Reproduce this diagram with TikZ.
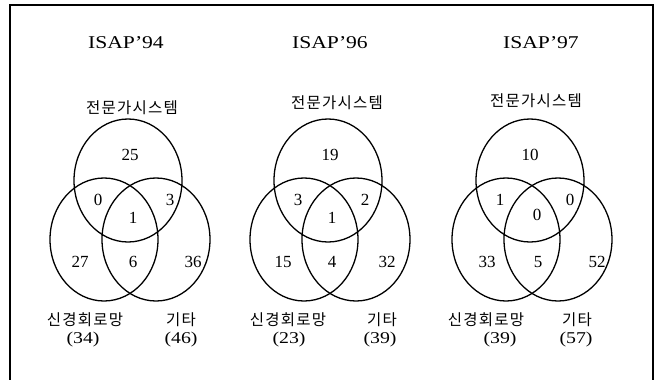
\documentclass[tikz,border=0pt]{standalone}
\usepackage{fontspec}
\setmainfont{Liberation Serif}
\newfontfamily\korfont{Noto Sans CJK KR}[LetterSpace=8]
\newfontfamily\widefont{Liberation Serif}[FakeStretch=1.2]
\usepackage{tikz}
\usetikzlibrary{positioning}
\tikzset{
  ring/.style={draw,line width=1.3pt},
  frm/.style={draw,line width=1.4pt},
  num/.style={inner sep=0pt,font=\fontsize{17}{18}\selectfont},
  ttl/.style={inner sep=0pt,font=\widefont\fontsize{18}{20}\selectfont},
  kor/.style={inner sep=0pt,font=\korfont\fontsize{15.5}{18}\selectfont},
  cnt/.style={inner sep=0pt,font=\widefont\fontsize{16.5}{18}\selectfont}
}

\begin{document}
\begin{tikzpicture}[x=1pt,y=-1pt]
\useasboundingbox (0,0) rectangle (659,380);
% open frame
\draw[frm] (10,380) -- (10,5) -- (653,5) -- (653,380);
% three circles per year
\foreach \cx in {128,328,530}{
  \draw[ring] (\cx,180.5) ellipse [x radius=54,y radius=61.5];
  \draw[ring] (\cx-24,239.5) ellipse [x radius=54,y radius=61.5];
  \draw[ring] (\cx+28,239.5) ellipse [x radius=54,y radius=61.5];
}
% ISAP'94
\node[ttl] (t94) at (126,43) {ISAP’94};
\node[kor] (es94) at (132,108) {전문가시스템};
\node[num] (a94) at (130,155) {25};
\node[num] (b94) at (98,200) {0};
\node[num] (c94) at (170,200) {3};
\node[num] (d94) at (133,218) {1};
\node[num] (e94) at (80,262) {27};
\node[num] (f94) at (133,262) {6};
\node[num] (g94) at (193,262) {36};
\node[kor] (nn94) at (85,320) {신경회로망};
\node[cnt] (nc94) at (83,340) {(34)};
\node[kor] (ot94) at (181,320) {기타};
\node[cnt] (oc94) at (181,340) {(46)};
% ISAP'96
\node[ttl] (t96) at (330,43) {ISAP’96};
\node[kor] (es96) at (337,103) {전문가시스템};
\node[num] (a96) at (330,155) {19};
\node[num] (b96) at (298,200) {3};
\node[num] (c96) at (365,200) {2};
\node[num] (d96) at (332,218) {1};
\node[num] (e96) at (283,262) {15};
\node[num] (f96) at (332,262) {4};
\node[num] (g96) at (387,262) {32};
\node[kor] (nn96) at (288,320) {신경회로망};
\node[cnt] (nc96) at (289,340) {(23)};
\node[kor] (ot96) at (382,320) {기타};
\node[cnt] (oc96) at (380,340) {(39)};
% ISAP'97
\node[ttl] (t97) at (541,43) {ISAP’97};
\node[kor] (es97) at (536,101) {전문가시스템};
\node[num] (a97) at (530,155) {10};
\node[num] (b97) at (500,200) {1};
\node[num] (c97) at (570,200) {0};
\node[num] (d97) at (537,215) {0};
\node[num] (e97) at (487,262) {33};
\node[num] (f97) at (538,262) {5};
\node[num] (g97) at (597,262) {52};
\node[kor] (nn97) at (486,320) {신경회로망};
\node[cnt] (nc97) at (500,340) {(39)};
\node[kor] (ot97) at (577,320) {기타};
\node[cnt] (oc97) at (576,340) {(57)};
\end{tikzpicture}
\end{document}
